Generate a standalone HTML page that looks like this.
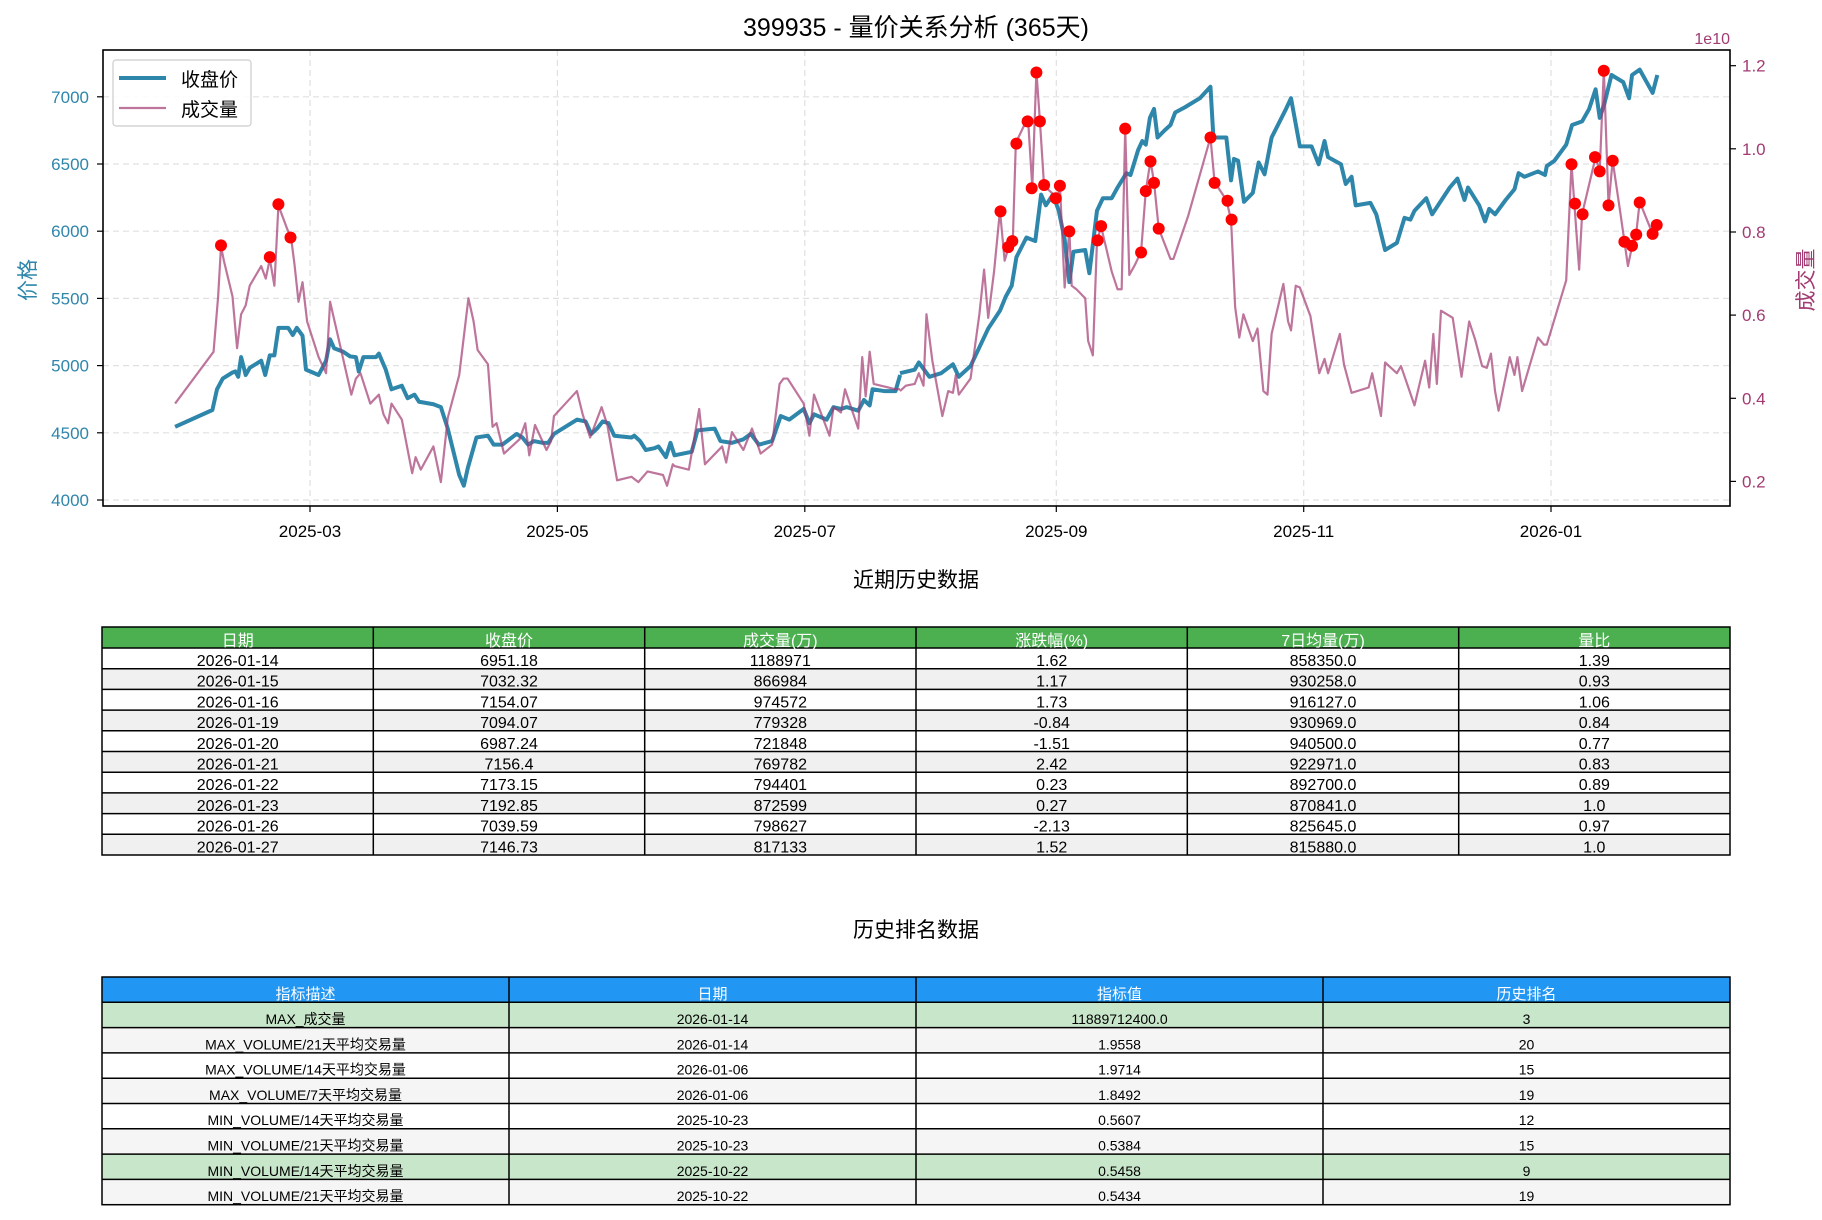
<!DOCTYPE html>
<html><head><meta charset="utf-8"><style>
html,body{margin:0;padding:0;background:#fff;}
svg{display:block;font-family:"Liberation Sans","WenQuanYi Zen Hei","Noto Sans CJK SC",sans-serif;}
</style></head><body>
<svg width="1822" height="1220" viewBox="0 0 1822 1220" xmlns="http://www.w3.org/2000/svg">
<rect width="1822" height="1220" fill="#fff"/>
<text x="916" y="36" font-size="25" text-anchor="middle" fill="#000">399935 - 量价关系分析 (365天)</text>
<!-- grid -->
<g stroke="#e0e0e0" stroke-width="1.2" stroke-dasharray="6,4">
<line x1="103" x2="1730" y1="500" y2="500"/><line x1="103" x2="1730" y1="432.8" y2="432.8"/><line x1="103" x2="1730" y1="365.6" y2="365.6"/><line x1="103" x2="1730" y1="298.4" y2="298.4"/><line x1="103" x2="1730" y1="231.2" y2="231.2"/><line x1="103" x2="1730" y1="164" y2="164"/><line x1="103" x2="1730" y1="96.8" y2="96.8"/>
<line x1="310" x2="310" y1="50" y2="506"/><line x1="557.4" x2="557.4" y1="50" y2="506"/><line x1="804.8" x2="804.8" y1="50" y2="506"/><line x1="1056.3" x2="1056.3" y1="50" y2="506"/><line x1="1303.7" x2="1303.7" y1="50" y2="506"/><line x1="1551" x2="1551" y1="50" y2="506"/>
</g>
<!-- price zoom1 -->
<g transform="scale(0.57405,0.35714)">
<polyline fill="none" stroke="#2E86AB" stroke-width="4" vector-effect="non-scaling-stroke" stroke-linejoin="round" points="305,1195 370,1148 378,1090 388,1060 405,1043 410,1040 415,1055 420,1000 428,1050 435,1030 455,1010 462,1050 470,995 478,995 485,918 502,918 510,938 517,918 527,940 533,1035 555,1050 568,1010 575,950 582,975 598,985 610,998 620,1000 625,1040 633,1000 655,1000 660,990 672,1035 682,1090 700,1080 710,1115 722,1105 730,1125 755,1132 768,1140 780,1200 800,1330 808,1360 815,1310 830,1225 850,1220 860,1245 875,1245 900,1215 910,1225 920,1245 930,1235 945,1240 955,1240 965,1215 985,1195 1005,1175 1020,1180 1030,1215 1040,1200 1050,1180 1060,1185 1070,1220 1100,1225 1105,1220 1115,1235 1125,1260 1140,1255 1147,1250 1160,1280 1168,1240 1175,1275 1205,1265 1215,1205 1245,1200 1255,1235 1275,1240 1295,1230 1308,1215 1322,1245 1345,1235 1360,1165 1375,1175 1400,1145 1410,1185 1418,1160 1440,1175 1452,1140 1465,1145 1475,1140 1495,1150 1505,1120 1515,1135 1520,1090 1540,1095 1560,1095 1568,1050"/>
<polyline fill="none" stroke="#A23B72" stroke-opacity="0.7" stroke-width="2.2" vector-effect="non-scaling-stroke" stroke-linejoin="round" points="305,1130 372,985 380,830 385,690 390,730 405,830 413,975 420,880 428,855 435,800 455,745 463,780 470,725 478,800 485,575 500,640 507,665 513,740 520,845 527,790 535,900 555,1000 568,1045 575,845 590,950 612,1105 620,1060 628,1045 645,1130 660,1105 668,1160 676,1185 682,1130 700,1175 718,1325 724,1280 733,1315 755,1250 768,1350 780,1170 800,1050 816,835 825,900 832,980 850,1020 858,1195 865,1185 878,1270 905,1230 915,1185 922,1275 932,1190 952,1260 960,1235 965,1165 1005,1095 1015,1160 1028,1225 1048,1140 1058,1190 1075,1345 1100,1335 1112,1350 1128,1320 1155,1330 1162,1360 1172,1300 1175,1305 1200,1315 1218,1145 1228,1300 1258,1250 1265,1295 1275,1210 1295,1260 1310,1200 1325,1270 1345,1245 1358,1075 1365,1060 1372,1060 1400,1130 1410,1220 1418,1105 1445,1220 1452,1140 1465,1155 1472,1090 1495,1200 1502,1000 1508,1110 1515,985 1522,1075 1560,1090 1568,1090"/>
</g>
<g transform="translate(900,0) scale(0.5880,0.35714)">
<polyline fill="none" stroke="#2E86AB" stroke-width="4" vector-effect="non-scaling-stroke" stroke-linejoin="round" points="0,1045 25,1035 32,1015 50,1055 70,1045 90,1020 100,1055 120,1025 140,955 150,920 170,870 180,830 190,800 198,720 215,665 230,675 240,545 248,575 260,545 270,590 280,670 288,790 295,705 315,700 322,765 335,590 345,555 360,555 370,525 385,485 392,490 405,420 412,395 418,405 425,330 432,305 438,385 450,365 460,350 468,315 485,300 510,275 528,243 533,385 555,385 563,505 568,445 575,450 585,565 600,540 610,455 620,488 632,385 655,310 665,275 680,410 700,410 712,460 722,395 728,440 750,460 758,515 768,495 775,575 800,568 810,600 825,700 845,680 858,610 868,615 875,590 895,555 905,600 915,575 935,525 948,500 960,560 966,525 985,575 995,620 1002,585 1012,600 1030,560 1045,530 1052,485 1062,495 1085,480 1097,490 1100,465 1113,450 1133,405 1143,350 1160,340 1172,305 1183,250 1190,330 1198,290 1210,210 1230,230 1240,275 1245,210 1258,195 1280,260 1288,210"/>
<polyline fill="none" stroke="#A23B72" stroke-opacity="0.7" stroke-width="2.2" vector-effect="non-scaling-stroke" stroke-linejoin="round" points="0,1095 10,1080 25,1075 32,1045 40,1080 45,880 55,1010 72,1165 82,1095 90,1100 95,1050 100,1105 120,1060 135,880 143,755 150,890 160,760 170,590 178,730 185,690 192,665 197,400 210,355 218,340 225,525 232,200 238,340 245,520 258,540 268,555 272,520 280,805 288,645 292,800 300,810 315,835 320,955 328,995 335,675 342,635 350,690 360,760 370,810 377,810 383,360 390,770 400,740 410,705 418,535 426,450 432,510 440,640 460,725 465,725 490,605 528,385 535,510 555,560 563,615 570,860 577,945 584,880 600,955 608,920 618,1095 625,1105 632,935 652,795 660,900 665,925 673,800 680,805 698,885 713,1045 722,1005 728,1045 748,935 755,1020 768,1100 797,1085 803,1045 818,1165 825,1015 845,1045 852,1025 875,1135 893,1010 900,1085 907,935 913,1075 920,870 940,890 955,1055 968,900 978,950 990,1025 998,1030 1005,990 1012,1095 1018,1150 1037,1000 1045,1050 1050,1000 1058,1095 1085,945 1095,965 1100,965 1133,785 1142,460 1155,755 1160,600 1183,440 1190,480 1197,195 1205,575 1212,450 1225,595 1238,745 1245,690 1252,655 1258,565 1280,655 1287,630"/>
</g>
<!-- red dots -->
<g fill="#ff0000">
<circle cx="221" cy="245.4" r="6"/><circle cx="269.8" cy="257.1" r="6"/><circle cx="278.4" cy="204.3" r="6"/><circle cx="290.5" cy="237.5" r="6"/>
<circle cx="1000.5" cy="211.4" r="6"/><circle cx="1008.2" cy="247.1" r="6"/><circle cx="1012.3" cy="241.1" r="6"/><circle cx="1016.4" cy="143.6" r="6"/><circle cx="1027.6" cy="121.4" r="6"/><circle cx="1031.7" cy="188.2" r="6"/><circle cx="1036.4" cy="72.5" r="6"/><circle cx="1039.9" cy="121.4" r="6"/><circle cx="1044.1" cy="185" r="6"/><circle cx="1055.8" cy="198.2" r="6"/><circle cx="1059.9" cy="185.7" r="6"/><circle cx="1069.3" cy="231.4" r="6"/><circle cx="1097.6" cy="240.4" r="6"/><circle cx="1101.1" cy="226.1" r="6"/><circle cx="1125.2" cy="128.6" r="6"/><circle cx="1141.1" cy="252.5" r="6"/><circle cx="1145.8" cy="191.1" r="6"/><circle cx="1150.5" cy="161.4" r="6"/><circle cx="1154" cy="182.9" r="6"/><circle cx="1158.7" cy="228.6" r="6"/><circle cx="1210.5" cy="137.5" r="6"/><circle cx="1214.6" cy="182.9" r="6"/><circle cx="1227.5" cy="200.7" r="6"/><circle cx="1231.6" cy="219.6" r="6"/>
<circle cx="1571.5" cy="164.3" r="6"/><circle cx="1575" cy="203.6" r="6"/><circle cx="1582.6" cy="214.3" r="6"/><circle cx="1595" cy="157.1" r="6"/><circle cx="1599.7" cy="171.4" r="6"/><circle cx="1603.8" cy="70.7" r="6"/><circle cx="1608.5" cy="205.4" r="6"/><circle cx="1612.7" cy="160.7" r="6"/><circle cx="1624.4" cy="241.8" r="6"/><circle cx="1632" cy="245.7" r="6"/><circle cx="1636.2" cy="234.6" r="6"/><circle cx="1639.7" cy="202.5" r="6"/><circle cx="1652.6" cy="233.9" r="6"/><circle cx="1656.7" cy="225" r="6"/>
</g>
<!-- axes frame -->
<rect x="103" y="50" width="1627" height="456" fill="none" stroke="#000" stroke-width="1.6"/>
<!-- left ticks -->
<g stroke="#000" stroke-width="1.2">
<line x1="97" x2="103" y1="500" y2="500"/><line x1="97" x2="103" y1="432.8" y2="432.8"/><line x1="97" x2="103" y1="365.6" y2="365.6"/><line x1="97" x2="103" y1="298.4" y2="298.4"/><line x1="97" x2="103" y1="231.2" y2="231.2"/><line x1="97" x2="103" y1="164" y2="164"/><line x1="97" x2="103" y1="96.8" y2="96.8"/>
<line x1="1730" x2="1736" y1="481.4" y2="481.4"/><line x1="1730" x2="1736" y1="398.3" y2="398.3"/><line x1="1730" x2="1736" y1="315.1" y2="315.1"/><line x1="1730" x2="1736" y1="232" y2="232"/><line x1="1730" x2="1736" y1="148.8" y2="148.8"/><line x1="1730" x2="1736" y1="65.7" y2="65.7"/>
<line x1="310" x2="310" y1="506" y2="512"/><line x1="557.4" x2="557.4" y1="506" y2="512"/><line x1="804.8" x2="804.8" y1="506" y2="512"/><line x1="1056.3" x2="1056.3" y1="506" y2="512"/><line x1="1303.7" x2="1303.7" y1="506" y2="512"/><line x1="1551" x2="1551" y1="506" y2="512"/>
</g>
<g font-size="17" fill="#2E86AB" text-anchor="end">
<text x="89" y="506">4000</text><text x="89" y="438.8">4500</text><text x="89" y="371.6">5000</text><text x="89" y="304.4">5500</text><text x="89" y="237.2">6000</text><text x="89" y="170">6500</text><text x="89" y="102.8">7000</text>
</g>
<g font-size="17" fill="#A23B72">
<text x="1742" y="487.4">0.2</text><text x="1742" y="404.3">0.4</text><text x="1742" y="321.1">0.6</text><text x="1742" y="238">0.8</text><text x="1742" y="154.8">1.0</text><text x="1742" y="71.7">1.2</text>
<text x="1730" y="44" text-anchor="end" font-size="16">1e10</text>
</g>
<g font-size="17" fill="#000" text-anchor="middle">
<text x="310" y="537">2025-03</text><text x="557.4" y="537">2025-05</text><text x="804.8" y="537">2025-07</text><text x="1056.3" y="537">2025-09</text><text x="1303.7" y="537">2025-11</text><text x="1551" y="537">2026-01</text>
</g>
<text transform="translate(35,280) rotate(-90)" font-size="21" fill="#2E86AB" text-anchor="middle">价格</text>
<text transform="translate(1813,280) rotate(-90)" font-size="21" fill="#A23B72" text-anchor="middle">成交量</text>
<!-- legend -->
<rect x="113" y="60" width="138" height="66" rx="3" fill="#fff" fill-opacity="0.85" stroke="#ccc" stroke-width="1.2"/>
<line x1="119" x2="166" y1="78" y2="78" stroke="#2E86AB" stroke-width="4"/>
<line x1="119" x2="166" y1="108" y2="108" stroke="#A23B72" stroke-opacity="0.7" stroke-width="2.2"/>
<text x="181" y="86" font-size="19" fill="#000">收盘价</text>
<text x="181" y="116" font-size="19" fill="#000">成交量</text>

<!-- Table 1 -->
<text x="916" y="587" font-size="21" text-anchor="middle" fill="#000">近期历史数据</text>
<rect x="102" y="627" width="1628" height="21" fill="#4CAF50"/>
<g fill="#f0f0f0">
<rect x="102" y="668.7" width="1628" height="20.7"/><rect x="102" y="710.1" width="1628" height="20.7"/><rect x="102" y="751.5" width="1628" height="20.7"/><rect x="102" y="792.9" width="1628" height="20.7"/><rect x="102" y="834.3" width="1628" height="20.7"/>
</g>
<g stroke="#000" stroke-width="1.5" fill="none">
<rect x="102" y="627" width="1628" height="228"/>
<line x1="102" x2="1730" y1="648" y2="648"/><line x1="102" x2="1730" y1="668.7" y2="668.7"/><line x1="102" x2="1730" y1="689.4" y2="689.4"/><line x1="102" x2="1730" y1="710.1" y2="710.1"/><line x1="102" x2="1730" y1="730.8" y2="730.8"/><line x1="102" x2="1730" y1="751.5" y2="751.5"/><line x1="102" x2="1730" y1="772.2" y2="772.2"/><line x1="102" x2="1730" y1="792.9" y2="792.9"/><line x1="102" x2="1730" y1="813.6" y2="813.6"/><line x1="102" x2="1730" y1="834.3" y2="834.3"/>
<line x1="373.3" x2="373.3" y1="627" y2="855"/><line x1="644.7" x2="644.7" y1="627" y2="855"/><line x1="916" x2="916" y1="627" y2="855"/><line x1="1187.3" x2="1187.3" y1="627" y2="855"/><line x1="1458.7" x2="1458.7" y1="627" y2="855"/>
</g>
<g font-size="16" text-anchor="middle" fill="#fff">
<text x="237.7" y="646">日期</text><text x="509" y="646">收盘价</text><text x="780.3" y="646">成交量(万)</text><text x="1051.7" y="646">涨跌幅(%)</text><text x="1323" y="646">7日均量(万)</text><text x="1594.3" y="646">量比</text>
</g>
<g font-size="16" text-anchor="middle" fill="#000">
<text x="237.7" y="666">2026-01-14</text><text x="509" y="666">6951.18</text><text x="780.3" y="666">1188971</text><text x="1051.7" y="666">1.62</text><text x="1323" y="666">858350.0</text><text x="1594.3" y="666">1.39</text>
<text x="237.7" y="686.7">2026-01-15</text><text x="509" y="686.7">7032.32</text><text x="780.3" y="686.7">866984</text><text x="1051.7" y="686.7">1.17</text><text x="1323" y="686.7">930258.0</text><text x="1594.3" y="686.7">0.93</text>
<text x="237.7" y="707.4">2026-01-16</text><text x="509" y="707.4">7154.07</text><text x="780.3" y="707.4">974572</text><text x="1051.7" y="707.4">1.73</text><text x="1323" y="707.4">916127.0</text><text x="1594.3" y="707.4">1.06</text>
<text x="237.7" y="728.1">2026-01-19</text><text x="509" y="728.1">7094.07</text><text x="780.3" y="728.1">779328</text><text x="1051.7" y="728.1">-0.84</text><text x="1323" y="728.1">930969.0</text><text x="1594.3" y="728.1">0.84</text>
<text x="237.7" y="748.8">2026-01-20</text><text x="509" y="748.8">6987.24</text><text x="780.3" y="748.8">721848</text><text x="1051.7" y="748.8">-1.51</text><text x="1323" y="748.8">940500.0</text><text x="1594.3" y="748.8">0.77</text>
<text x="237.7" y="769.5">2026-01-21</text><text x="509" y="769.5">7156.4</text><text x="780.3" y="769.5">769782</text><text x="1051.7" y="769.5">2.42</text><text x="1323" y="769.5">922971.0</text><text x="1594.3" y="769.5">0.83</text>
<text x="237.7" y="790.2">2026-01-22</text><text x="509" y="790.2">7173.15</text><text x="780.3" y="790.2">794401</text><text x="1051.7" y="790.2">0.23</text><text x="1323" y="790.2">892700.0</text><text x="1594.3" y="790.2">0.89</text>
<text x="237.7" y="810.9">2026-01-23</text><text x="509" y="810.9">7192.85</text><text x="780.3" y="810.9">872599</text><text x="1051.7" y="810.9">0.27</text><text x="1323" y="810.9">870841.0</text><text x="1594.3" y="810.9">1.0</text>
<text x="237.7" y="831.6">2026-01-26</text><text x="509" y="831.6">7039.59</text><text x="780.3" y="831.6">798627</text><text x="1051.7" y="831.6">-2.13</text><text x="1323" y="831.6">825645.0</text><text x="1594.3" y="831.6">0.97</text>
<text x="237.7" y="852.3">2026-01-27</text><text x="509" y="852.3">7146.73</text><text x="780.3" y="852.3">817133</text><text x="1051.7" y="852.3">1.52</text><text x="1323" y="852.3">815880.0</text><text x="1594.3" y="852.3">1.0</text>
</g>

<!-- Table 2 -->
<text x="916" y="937" font-size="21" text-anchor="middle" fill="#000">历史排名数据</text>
<rect x="102" y="977" width="1628" height="25.3" fill="#2196F3"/>
<rect x="102" y="1002.3" width="1628" height="25.3" fill="#C8E6C9"/>
<rect x="102" y="1027.6" width="1628" height="25.3" fill="#f5f5f5"/>
<rect x="102" y="1078.2" width="1628" height="25.3" fill="#f5f5f5"/>
<rect x="102" y="1128.8" width="1628" height="25.3" fill="#f5f5f5"/>
<rect x="102" y="1154.1" width="1628" height="25.3" fill="#C8E6C9"/>
<rect x="102" y="1179.4" width="1628" height="25.3" fill="#f5f5f5"/>
<g stroke="#000" stroke-width="1.5" fill="none">
<rect x="102" y="977" width="1628" height="227.7"/>
<line x1="102" x2="1730" y1="1002.3" y2="1002.3"/><line x1="102" x2="1730" y1="1027.6" y2="1027.6"/><line x1="102" x2="1730" y1="1052.9" y2="1052.9"/><line x1="102" x2="1730" y1="1078.2" y2="1078.2"/><line x1="102" x2="1730" y1="1103.5" y2="1103.5"/><line x1="102" x2="1730" y1="1128.8" y2="1128.8"/><line x1="102" x2="1730" y1="1154.1" y2="1154.1"/><line x1="102" x2="1730" y1="1179.4" y2="1179.4"/>
<line x1="509" x2="509" y1="977" y2="1204.7"/><line x1="916" x2="916" y1="977" y2="1204.7"/><line x1="1323" x2="1323" y1="977" y2="1204.7"/>
</g>
<g font-size="15" text-anchor="middle" fill="#fff">
<text x="305.5" y="999">指标描述</text><text x="712.5" y="999">日期</text><text x="1119.5" y="999">指标值</text><text x="1526.5" y="999">历史排名</text>
</g>
<g font-size="14" text-anchor="middle" fill="#000">
<text x="305.5" y="1024">MAX_成交量</text><text x="712.5" y="1024">2026-01-14</text><text x="1119.5" y="1024">11889712400.0</text><text x="1526.5" y="1024">3</text>
<text x="305.5" y="1049.3">MAX_VOLUME/21天平均交易量</text><text x="712.5" y="1049.3">2026-01-14</text><text x="1119.5" y="1049.3">1.9558</text><text x="1526.5" y="1049.3">20</text>
<text x="305.5" y="1074.6">MAX_VOLUME/14天平均交易量</text><text x="712.5" y="1074.6">2026-01-06</text><text x="1119.5" y="1074.6">1.9714</text><text x="1526.5" y="1074.6">15</text>
<text x="305.5" y="1099.9">MAX_VOLUME/7天平均交易量</text><text x="712.5" y="1099.9">2026-01-06</text><text x="1119.5" y="1099.9">1.8492</text><text x="1526.5" y="1099.9">19</text>
<text x="305.5" y="1125.2">MIN_VOLUME/14天平均交易量</text><text x="712.5" y="1125.2">2025-10-23</text><text x="1119.5" y="1125.2">0.5607</text><text x="1526.5" y="1125.2">12</text>
<text x="305.5" y="1150.5">MIN_VOLUME/21天平均交易量</text><text x="712.5" y="1150.5">2025-10-23</text><text x="1119.5" y="1150.5">0.5384</text><text x="1526.5" y="1150.5">15</text>
<text x="305.5" y="1175.8">MIN_VOLUME/14天平均交易量</text><text x="712.5" y="1175.8">2025-10-22</text><text x="1119.5" y="1175.8">0.5458</text><text x="1526.5" y="1175.8">9</text>
<text x="305.5" y="1201.1">MIN_VOLUME/21天平均交易量</text><text x="712.5" y="1201.1">2025-10-22</text><text x="1119.5" y="1201.1">0.5434</text><text x="1526.5" y="1201.1">19</text>
</g>
</svg>
</body></html>
